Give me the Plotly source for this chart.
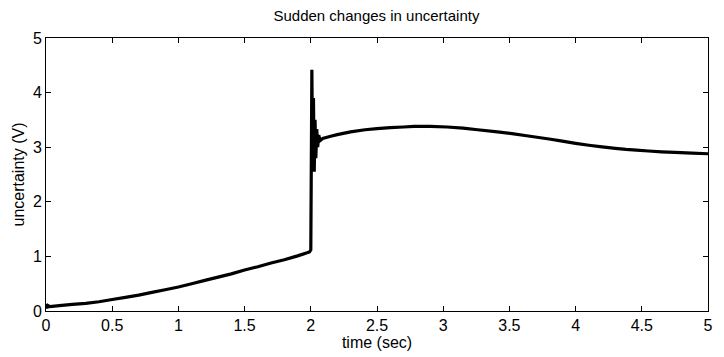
import plotly.graph_objects as go

time_s = [0.0, 0.008, 0.015, 0.03, 0.1, 0.2, 0.3, 0.4, 0.5, 0.6, 0.7, 0.8, 0.9, 1.0,
          1.1, 1.2, 1.3, 1.4, 1.5, 1.6, 1.7, 1.8, 1.9, 1.99,
          2.0, 2.008, 2.014, 2.02, 2.026, 2.032, 2.038, 2.045, 2.052, 2.06, 2.07, 2.09,
          2.15, 2.2, 2.3, 2.41, 2.5, 2.6, 2.7, 2.78, 2.9, 3.03, 3.15, 3.26, 3.41, 3.52, 3.63,
          3.8, 3.9, 4.0, 4.1, 4.2, 4.3, 4.38, 4.46, 4.55, 4.65, 4.75, 4.88, 5.0]
uncert = [0.13, 0.05, 0.1, 0.08, 0.1, 0.12, 0.14, 0.17, 0.21, 0.25, 0.29, 0.34, 0.39, 0.44,
          0.5, 0.56, 0.62, 0.68, 0.75, 0.81, 0.88, 0.94, 1.01, 1.08,
          1.12, 4.42, 2.7, 3.9, 2.55, 3.5, 2.8, 3.33, 3.0, 3.22, 3.12, 3.16,
          3.2, 3.23, 3.28, 3.32, 3.34, 3.36, 3.37, 3.38, 3.38, 3.37, 3.35, 3.32, 3.28, 3.25, 3.21,
          3.15, 3.11, 3.07, 3.035, 3.005, 2.98, 2.96, 2.945, 2.93, 2.915, 2.905, 2.89, 2.88]

x_ticks = [0, 0.5, 1, 1.5, 2, 2.5, 3, 3.5, 4, 4.5, 5]
y_ticks = [0, 1, 2, 3, 4, 5]

fig = go.Figure()
fig.add_trace(go.Scatter(x=time_s, y=uncert, mode="lines",
                         line=dict(color="black", width=3.2, simplify=False),
                         showlegend=False))

axis_common = dict(showline=True, linecolor="black", linewidth=1, mirror="allticks",
                   ticks="inside", ticklen=5, tickcolor="black", showgrid=False,
                   zeroline=False, tickfont=dict(size=16, color="black"))

fig.update_layout(
    width=724, height=357,
    margin=dict(l=46, r=11, t=38, b=43),
    paper_bgcolor="white", plot_bgcolor="white",
    font=dict(family="Liberation Sans, Arial, sans-serif", color="black"),
    title=dict(text="Sudden changes in uncertainty", x=0.52, xanchor="center",
               y=0.955, yanchor="middle", font=dict(size=15, color="black")),
    xaxis=dict(range=[0, 5], tickvals=x_ticks, ticktext=[str(v) for v in x_ticks],
               title=dict(text="time (sec)", font=dict(size=16), standoff=1), **axis_common),
    yaxis=dict(range=[0, 5], tickvals=y_ticks,
               title=dict(text="uncertainty (V)", font=dict(size=16), standoff=4), **axis_common),
)

fig.write_html("out.html")
